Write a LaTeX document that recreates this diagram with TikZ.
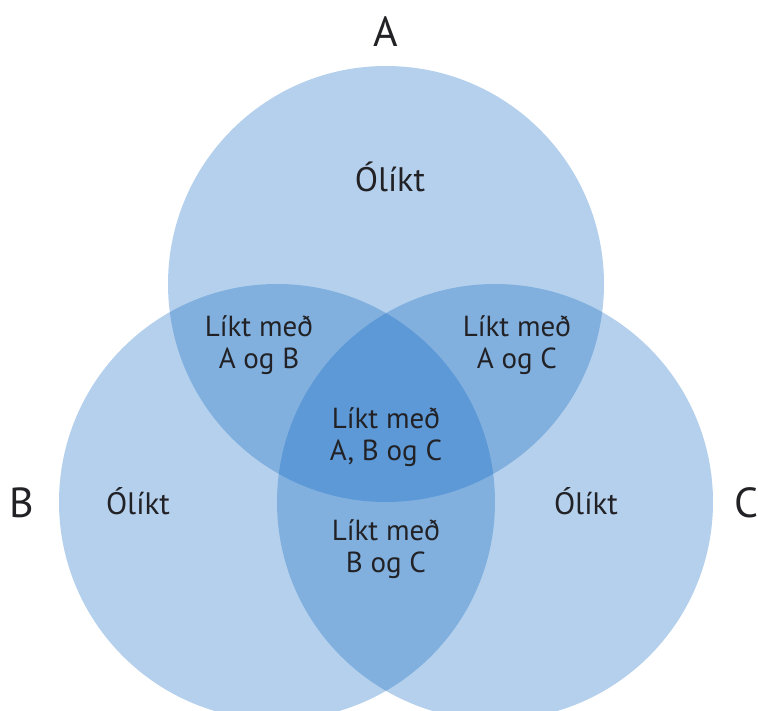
\documentclass[tikz,border=0pt]{standalone}
\usepackage{fontspec}
\setmainfont{PT Sans}
\usepackage{xcolor}
\usepackage{tikz}
\usetikzlibrary{calc}
\definecolor{setblue}{RGB}{11,102,193}
\definecolor{txt}{RGB}{34,34,38}

\begin{document}
\begin{tikzpicture}[x=1pt,y=-1pt,
    setfill/.style={fill=setblue,fill opacity=0.307},
    region/.style={text=txt,font=\fontsize{29}{32}\selectfont,align=center},
    setname/.style={text=txt,font=\fontsize{42}{44}\selectfont}]
        \useasboundingbox (0,0) rectangle (758,711);
        \clip (0,0) rectangle (758,711);
        \coordinate (a) at (386,284);
        \coordinate (b) at (277,502);
        \coordinate (c) at (495,502);
        \fill[setfill] (a) circle (218);
        \fill[setfill] (b) circle (218);
        \fill[setfill] (c) circle (218);
        \node[setname] (nameA) at (386,32) {A};
        \node[setname] (nameB) at (22,503) {B};
        \node[setname] (nameC) at (746,503) {C};
        \node[region,font=\fontsize{34}{36}\selectfont] (onlyA) at (390,177) {Ólíkt};
        \node[region,font=\fontsize{31}{32}\selectfont] (onlyB) at (138,501) {Ólíkt};
        \node[region,font=\fontsize{31}{32}\selectfont] (onlyC) at (586,501) {Ólíkt};
        \node[region] (ab) at (259,345) {Líkt með\\A og B};
        \node[region] (ac) at (517,345) {Líkt með\\A og C};
        \node[region] (bc) at (386,549) {Líkt með\\B og C};
        \node[region] (abc) at (386,437) {Líkt með\\A, B og C};
    \end{tikzpicture}
\end{document}
